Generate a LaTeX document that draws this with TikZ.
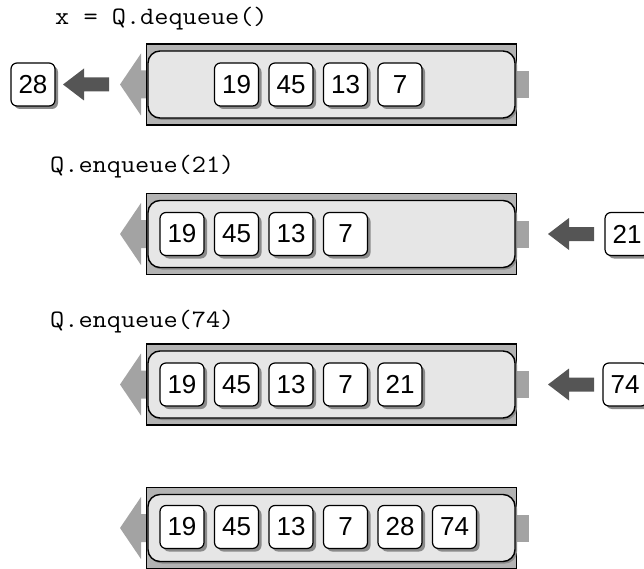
\documentclass[tikz,border=0pt]{standalone}
\usepackage{fontspec}
\setmainfont{Liberation Sans}
\usetikzlibrary{shadows}
\definecolor{outerfill}{HTML}{B3B3B3}
\definecolor{innerfill}{HTML}{E6E6E6}
\definecolor{lightarr}{HTML}{A3A3A3}
\definecolor{darkarr}{HTML}{555555}
\definecolor{shadowc}{HTML}{8A8A8A}
\tikzset{
  outerq/.style={draw=black, line width=1.4pt, fill=outerfill, inner sep=0pt, minimum width=370pt, minimum height=81pt},
  innerq/.style={draw=black, line width=1.4pt, fill=innerfill, inner sep=0pt, rounded corners=12pt, minimum width=367pt, minimum height=67pt,
     drop shadow={shadow xshift=2pt, shadow yshift=-2pt, fill=shadowc, opacity=1}},
  numbox/.style={draw=black, line width=1.2pt, fill=white, rounded corners=6pt, inner sep=0pt, minimum width=44pt, minimum height=43pt,
     font=\fontsize{26}{30}\selectfont,
     drop shadow={shadow xshift=3pt, shadow yshift=-3pt, fill=shadowc, opacity=1}},
  codetext/.style={anchor=base west, inner sep=0pt, xscale=1.1, font=\ttfamily\fontsize{25}{29}\selectfont},
  lightarrow/.style={fill=lightarr},
  darkarrow/.style={fill=darkarr},
  stubfill/.style={fill=lightarr},
}
% #1 name, #2 centre y
\newcommand\qrow[2]{%
  \fill[lightarrow] (147,#2-14) -- (141,#2-14) -- (141,#2-31) -- (120,#2) -- (141,#2+31) -- (141,#2+14) -- (147,#2+14) -- cycle;
  \fill[stubfill] (515,#2-13.5) rectangle (529,#2+13.5);
  \node[outerq] (#1) at (331.5,#2) {};
  \node[innerq] (#1in) at (331.5,#2) {};
}
\newcommand\darkarrowat[2]{%
  \fill[darkarrow] (#1,#2) -- (#1+21,#2-16) -- (#1+21,#2-7) -- (#1+46,#2-7) -- (#1+46,#2+7) -- (#1+21,#2+7) -- (#1+21,#2+16) -- cycle;
}
\begin{document}
\begin{tikzpicture}[x=1pt,y=-1pt]
\useasboundingbox (0,0) rectangle (644,569);
% row 1
\node[codetext] (c1) at (55,25) {x = Q.dequeue()};
\qrow{q1}{84.5}
\node[numbox] (a19) at (236.5,84.5) {19};
\node[numbox] (a45) at (291,84.5) {45};
\node[numbox] (a13) at (345.5,84.5) {13};
\node[numbox] (a7) at (400,84.5) {7};
\darkarrowat{63}{84.5}
\node[numbox] (a28) at (33,84.5) {28};
% row 2
\node[codetext] (c2) at (50,173) {Q.enqueue(21)};
\qrow{q2}{234}
\node[numbox] (b19) at (182,234) {19};
\node[numbox] (b45) at (236.5,234) {45};
\node[numbox] (b13) at (291,234) {13};
\node[numbox] (b7) at (345.5,234) {7};
\darkarrowat{548}{234}
\node[numbox] (b21) at (627,234) {21};
% row 3
\node[codetext] (c3) at (50,327) {Q.enqueue(74)};
\qrow{q3}{384.5}
\node[numbox] (d19) at (182,384.5) {19};
\node[numbox] (d45) at (236.5,384.5) {45};
\node[numbox] (d13) at (291,384.5) {13};
\node[numbox] (d7) at (345.5,384.5) {7};
\node[numbox] (d21) at (400,384.5) {21};
\darkarrowat{548}{384.5}
\node[numbox] (d74) at (625,384.5) {74};
% row 4
\qrow{q4}{528}
\node[numbox] (e19) at (182,527) {19};
\node[numbox] (e45) at (236.5,527) {45};
\node[numbox] (e13) at (291,527) {13};
\node[numbox] (e7) at (345.5,527) {7};
\node[numbox] (e28) at (400,527) {28};
\node[numbox] (e74) at (454.5,527) {74};
\end{tikzpicture}
\end{document}
